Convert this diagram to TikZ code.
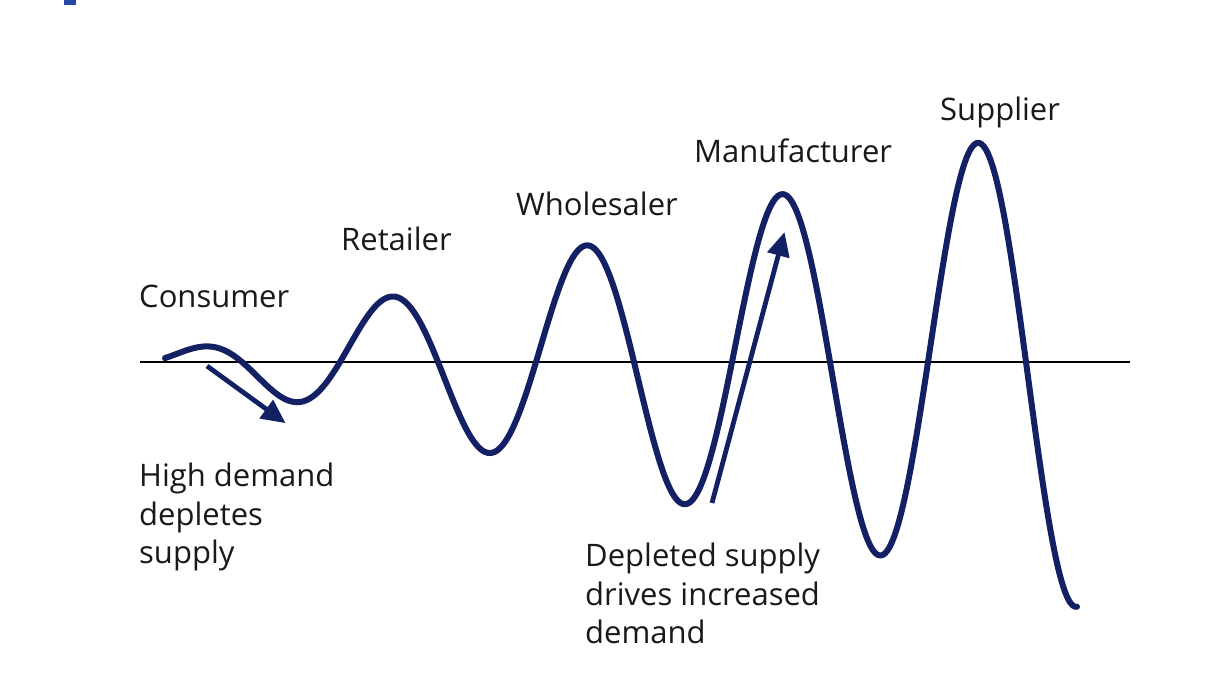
\documentclass[tikz,border=0pt]{standalone}
\usepackage{fontspec}
\setmainfont{Open Sans}
\usetikzlibrary{arrows.meta}
\definecolor{wave}{RGB}{20,32,100}
\definecolor{ink}{RGB}{25,25,25}
\definecolor{tagblue}{RGB}{40,70,170}
\tikzset{
  lbl/.style={inner sep=0pt, text=ink, font=\fontsize{31}{38.5}\selectfont},
  wavestyle/.style={draw=wave, line width=6pt, line cap=round, line join=round},
  flowarrow/.style={draw=wave, line width=4.8pt, -{Triangle[length=24pt,width=22pt]}, shorten >=-2pt},
}
\begin{document}
\begin{tikzpicture}[x=1pt,y=-1pt]
\useasboundingbox (0,0) rectangle (1226,690);
\fill[white] (0,0) rectangle (1226,690);
% cut-off legend mark at the top edge
\fill[tagblue] (64,0) rectangle (76,5);
% axis
\coordinate (axL) at (140,362);
\coordinate (axR) at (1130,362);
\draw[black, line width=1.8pt] (axL) -- (axR);
% wave with linearly growing amplitude
\draw[wavestyle] plot[domain=165:1077, samples=400, smooth]
  (\x, {362 - (65+0.262*(\x-389))*cos(((\x-389)/196)*360)});
% labels
\node[lbl, anchor=base west] (consumer) at (139,307) {Consumer};
\node[lbl, anchor=base west] (retailer) at (341,250) {Retailer};
\node[lbl, anchor=base west] (wholesaler) at (516,215) {Wholesaler};
\node[lbl, anchor=base west] (manufacturer) at (694,163) {Manufacturer};
\node[lbl, anchor=base west] (supplier) at (940,121) {Supplier};
\node[lbl, anchor=north west, align=left] (high) at (139,463) {High demand\\depletes\\supply};
\node[lbl, anchor=north west, align=left] (depleted) at (585,543) {Depleted supply\\drives increased\\demand};
% arrows
\coordinate (a1s) at (207,366);
\coordinate (a1e) at (284,422);
\coordinate (a2s) at (712,503);
\coordinate (a2e) at (784,234);
\draw[flowarrow] (a1s) -- (a1e);
\draw[flowarrow] (a2s) -- (a2e);
\end{tikzpicture}
\end{document}
